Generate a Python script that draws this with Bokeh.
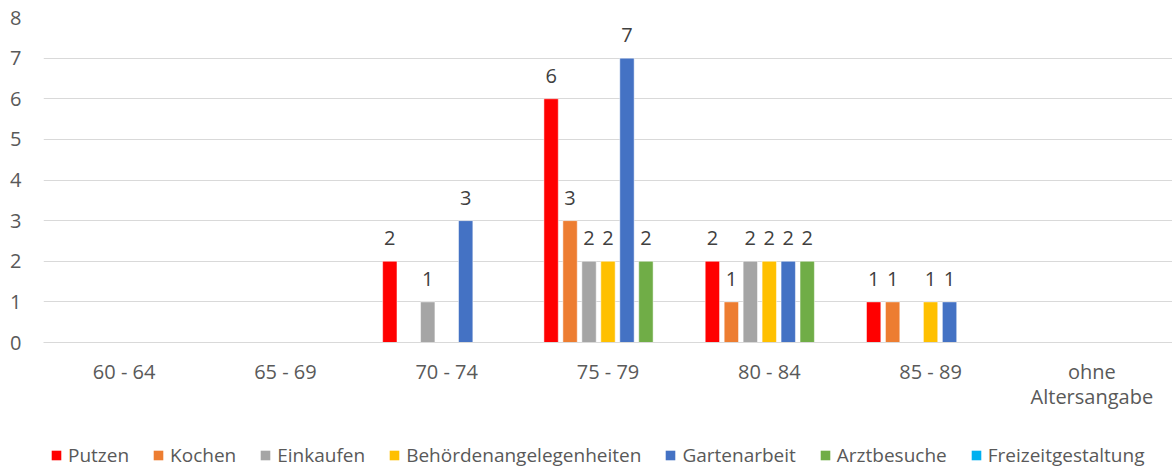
from bokeh.plotting import figure
from bokeh.models import Range1d, FixedTicker, ColumnDataSource, Legend, LegendItem
from bokeh.layouts import column
from bokeh.transform import dodge
from bokeh.core.properties import value
from bokeh.embed import file_html
from bokeh.resources import INLINE

categories = ["60 - 64", "65 - 69", "70 - 74", "75 - 79", "80 - 84", "85 - 89", "ohne\nAltersangabe"]
series_names = ["Putzen", "Kochen", "Einkaufen", "Behördenangelegenheiten",
                "Gartenarbeit", "Arztbesuche", "Freizeitgestaltung"]
putzen = [0, 0, 2, 6, 2, 1, 0]
kochen = [0, 0, 0, 3, 1, 1, 0]
einkaufen = [0, 0, 1, 2, 2, 0, 0]
behoerden = [0, 0, 0, 2, 2, 1, 0]
gartenarbeit = [0, 0, 3, 7, 2, 1, 0]
arztbesuche = [0, 0, 0, 2, 2, 0, 0]
freizeit = [0, 0, 0, 0, 0, 0, 0]
y_ticks = [0, 1, 2, 3, 4, 5, 6, 7, 8]

series_values = [putzen, kochen, einkaufen, behoerden, gartenarbeit, arztbesuche, freizeit]
colors = ["#FF0000", "#ED7D31", "#A5A5A5", "#FFC000", "#4472C4", "#70AD47", "#00B0F0"]

FONT = "Open Sans"
TICK_COLOR = "#595959"

p = figure(width=1172, height=430, title=None,
           x_range=Range1d(-0.5, 6.5), y_range=Range1d(0, 8),
           output_backend="svg", toolbar_location=None,
           min_border_left=43, min_border_top=17, min_border_right=0, min_border_bottom=88)
p.outline_line_color = None
p.background_fill_color = "white"

# legend strip (separate figure below the chart); its bars lie outside its view
pl = figure(width=1172, height=40, title=None, output_backend="svg", toolbar_location=None,
            x_range=Range1d(-0.5, 6.5), y_range=Range1d(100, 101),
            x_axis_location=None, y_axis_location=None,
            min_border_left=43, min_border_right=0, min_border_top=0, min_border_bottom=0)
pl.outline_line_color = None
pl.xgrid.visible = False
pl.ygrid.visible = False

idx = list(range(len(categories)))
step = 0.1176
bw = 0.089
n = len(series_names)
items = []
for i, (name, vals, col) in enumerate(zip(series_names, series_values, colors)):
    off = (i - (n - 1) / 2) * step
    src = ColumnDataSource(dict(xi=idx, v=vals))
    p.vbar(x=dodge("xi", off), top="v", bottom=0, width=bw, source=src,
           fill_color=col, line_color="white", line_width=0.5)
    lx = [x for x, v in zip(idx, vals) if v > 0]
    lv = [v for v in vals if v > 0]
    lsrc = ColumnDataSource(dict(xi=lx, v=lv, t=[str(v) for v in lv]))
    p.text(x=dodge("xi", off), y="v", text="t", source=lsrc,
           text_align="center", text_baseline="alphabetic", y_offset=-23,
           text_font=value(FONT), text_font_size="20px", text_color="#404040")
    rl = pl.vbar(x=dodge("xi", off), top="v", bottom=0, width=bw, source=src,
                 fill_color=col, line_color=None)
    items.append(LegendItem(label=name, renderers=[rl]))

# axes
p.xaxis.ticker = FixedTicker(ticks=idx)
p.xaxis.major_label_overrides = {i: c for i, c in enumerate(categories)}
p.xaxis.axis_line_color = "#D9D9D9"
p.xaxis.major_tick_line_color = None
p.xaxis.minor_tick_line_color = None
p.xaxis.major_tick_out = 0
p.xaxis.major_label_standoff = 15
p.xaxis.major_label_text_font = FONT
p.xaxis.major_label_text_font_size = "20px"
p.xaxis.major_label_text_line_height = 0.95
p.xaxis.major_label_text_color = TICK_COLOR

p.yaxis.ticker = FixedTicker(ticks=y_ticks)
p.yaxis.axis_line_color = None
p.yaxis.major_tick_line_color = None
p.yaxis.minor_tick_line_color = None
p.yaxis.major_tick_out = 0
p.yaxis.major_label_standoff = 22
p.yaxis.major_label_text_font = FONT
p.yaxis.major_label_text_font_size = "20px"
p.yaxis.major_label_text_color = TICK_COLOR

p.xgrid.grid_line_color = None
p.ygrid.ticker = FixedTicker(ticks=y_ticks)
p.ygrid.grid_line_color = "#D9D9D9"
p.ygrid.grid_line_width = 1

legend = Legend(items=items, orientation="horizontal", location=(7, 2),
                glyph_width=12, glyph_height=12, label_standoff=6, spacing=23,
                padding=0, margin=0, border_line_color=None,
                background_fill_alpha=0,
                label_text_font=FONT, label_text_font_size="19px",
                label_text_color=TICK_COLOR)
pl.add_layout(legend, "center")

layout = column(p, pl, spacing=0)
open("out.html", "w").write(file_html(layout, INLINE))
